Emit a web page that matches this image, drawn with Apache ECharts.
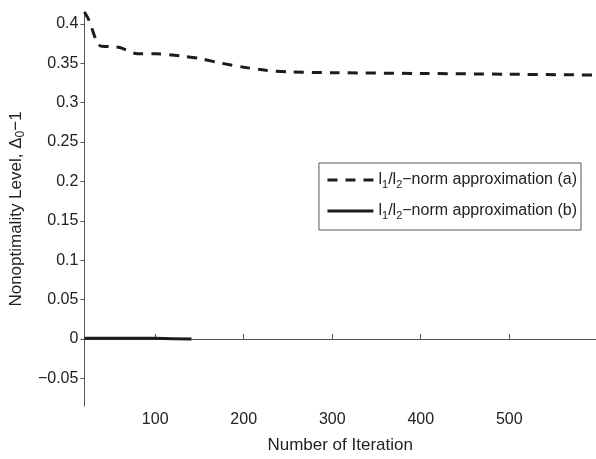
<!DOCTYPE html>
<html>
<head>
    <meta charset="utf-8">
    <title>Nonoptimality Level</title>
    <script src="https://cdn.jsdelivr.net/npm/echarts@6/dist/echarts.min.js"></script>
    <style>
        html, body { margin: 0; padding: 0; background: #fff; }
        #chart { width: 596px; height: 459px; }
    </style>
</head>
<body>
    <div id="chart"></div>
    <script>
    // iteration / value pairs
    var iterA = [20, 25, 38, 50, 60, 80, 100, 130, 150, 175, 200, 225, 250, 300, 400, 500, 598];
    var levelA = [0.415, 0.405, 0.372, 0.371, 0.370, 0.362, 0.362, 0.359, 0.356, 0.350, 0.345, 0.341, 0.339, 0.338, 0.337, 0.336, 0.335];
    var iterB = [20, 60, 100, 120, 141];
    var levelB = [0.001, 0.001, 0.001, 0.0005, 0.0];
    var xTicks = [100, 200, 300, 400, 500];
    var yTicks = [-0.05, 0, 0.05, 0.1, 0.15, 0.2, 0.25, 0.3, 0.35, 0.4];

    function pairs(xs, ys) {
        var out = [];
        for (var i = 0; i < xs.length; i++) out.push([xs[i], ys[i]]);
        return out;
    }
    function fmtY(v) {
        var s = String(Math.round(v * 100) / 100);
        return s.replace('-', '\u2212');
    }

    var font = 'Liberation Sans, Arial, sans-serif';
    var ink = '#222';
    var rich = {
        n: { fontSize: 16, fontFamily: font, color: ink },
        s: { fontSize: 11, padding: [9, 0, 0, 0], fontFamily: font, color: ink }
    };

    var chart = echarts.init(document.getElementById('chart'));
    chart.setOption({
        backgroundColor: '#fff',
        animation: false,
        grid: { left: 81, right: 0, top: 12, height: 398 },
        legend: {
            right: 15,
            top: 163,
            orient: 'vertical',
            itemWidth: 46,
            itemHeight: 16,
            itemGap: 13,
            padding: [9, 4, 9, 7],
            borderColor: '#555',
            borderWidth: 1,
            borderRadius: 0,
            backgroundColor: '#fff',
            itemStyle: { opacity: 0 },
            lineStyle: { width: 3 },
            data: ['a', 'b'],
            formatter: function (name) {
                return '{n|l}{s|1}{n|/l}{s|2}{n|\u2212norm approximation (' + name + ')}';
            },
            textStyle: { rich: rich, fontFamily: font, fontSize: 16, color: ink }
        },
        xAxis: {
            type: 'value',
            min: 20,
            max: 598,
            name: 'Number of Iteration',
            nameLocation: 'middle',
            nameGap: 31,
            nameTextStyle: { fontFamily: font, fontSize: 17, color: ink },
            axisLine: { lineStyle: { color: '#555', width: 1 } },
            axisTick: { inside: true, length: 5, customValues: xTicks, lineStyle: { color: '#555' } },
            axisLabel: { customValues: xTicks, fontFamily: font, fontSize: 16, color: ink, margin: 6 },
            splitLine: { show: false }
        },
        yAxis: {
            type: 'value',
            min: -0.085,
            max: 0.415,
            name: 'Nonoptimality Level, \u0394{s|0}\u22121',
            nameLocation: 'middle',
            nameGap: 52,
            nameTextStyle: {
                fontFamily: font, fontSize: 17, color: ink,
                rich: { s: { fontSize: 12, padding: [0, 0, -9, 0], fontFamily: font, color: ink } }
            },
            axisLine: { lineStyle: { color: '#555', width: 1 } },
            axisTick: { length: 4, customValues: yTicks, lineStyle: { color: '#555' } },
            axisLabel: {
                customValues: yTicks,
                formatter: fmtY,
                fontFamily: font, fontSize: 16, color: ink, margin: 6
            },
            splitLine: { show: false }
        },
        series: [
            {
                name: 'a',
                type: 'line',
                data: pairs(iterA, levelA),
                smooth: 0.3,
                showSymbol: false,
                symbol: 'none',
                lineStyle: { color: '#1c1c1c', width: 3, type: [10, 8] },
                itemStyle: { color: '#1c1c1c' }
            },
            {
                name: 'b',
                type: 'line',
                data: pairs(iterB, levelB),
                showSymbol: false,
                symbol: 'none',
                lineStyle: { color: '#1c1c1c', width: 3 },
                itemStyle: { color: '#1c1c1c' }
            }
        ]
    });
    </script>
</body>
</html>
